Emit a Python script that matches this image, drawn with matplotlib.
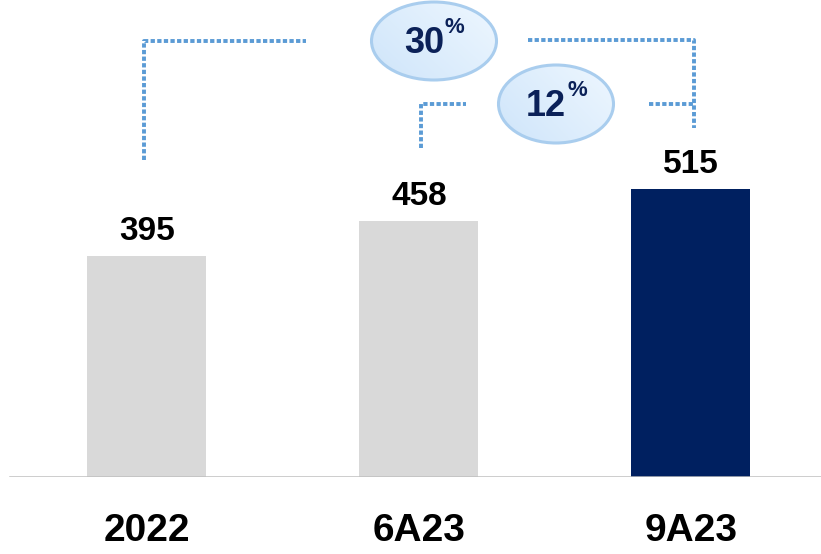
import matplotlib.pyplot as plt
import numpy as np
from matplotlib.patches import Ellipse
from matplotlib.colors import LinearSegmentedColormap

categories = ['2022', '6A23', '9A23']
values = [395, 458, 515]
growth_labels = ['30', '12']

plt.rcParams['font.family'] = ['Liberation Sans Narrow', 'Liberation Sans', 'DejaVu Sans']

grey = '#D9D9D9'
navy = '#002060'
dot_blue = '#5B9BD5'

fig = plt.figure(figsize=(8.21, 5.54), dpi=100)
ax = fig.add_axes([0, 77 / 554, 1, 477 / 554])

x = np.arange(len(categories))
colors = [grey, grey, navy]
ax.bar(x, values, width=0.4375, color=colors, zorder=2)
ax.set_xlim(-0.54, 2.478)
ax.set_ylim(0, 854)

for xi, v in zip(x, values):
    ax.text(xi, v + 16, str(v), ha='center', va='bottom', fontsize=24,
            fontweight='bold', color='black')

ax.axhline(0, xmin=10 / 821, xmax=1, color='#BFBFBF', lw=1.8, zorder=3)

ax.set_xticks(x)
ax.set_xticklabels(categories, fontsize=28, fontweight='bold')
ax.tick_params(axis='x', length=0, pad=26)
ax.set_yticks([])
for s in ax.spines.values():
    s.set_visible(False)

# pixel (from top-left) -> data, for the annotation layout
fig.canvas.draw()
inv = ax.transData.inverted()


def px(xp, yp):
    return inv.transform((xp, 554 - yp))


dot_style = dict(color=dot_blue, lw=2.8, linestyle=(0, (1.1, 0.6)),
                 dash_capstyle='butt', zorder=1)


def bracket(points):
    pts = np.array([px(*p) for p in points])
    ax.plot(pts[:, 0], pts[:, 1], **dot_style)


# outer bracket 2022 -> 9A23, inner bracket 6A23 -> 9A23
bracket([(144, 160), (144, 41), (306, 41)])
bracket([(528, 40), (694, 40), (694, 128)])
bracket([(421, 148), (421, 104), (466, 104)])
bracket([(649, 104), (694, 104)])

cmap = LinearSegmentedColormap.from_list('bub', ['#CFE5FA', '#EEF7FF'])


def bubble(cx, cy, w, h, label):
    c = px(cx, cy)
    c2 = px(cx + w, cy + h)
    wd, hd = c2[0] - c[0], c[1] - c2[1]
    gx, gy = np.meshgrid(np.linspace(0, 1, 100), np.linspace(0, 1, 100))
    im = ax.imshow(0.6 * gx + 0.4 * gy, cmap=cmap,
                   extent=(c[0] - wd / 2, c[0] + wd / 2, c[1] - hd / 2, c[1] + hd / 2),
                   origin='lower', aspect='auto', zorder=4)
    im.set_clip_path(Ellipse(c, wd, hd, transform=ax.transData))
    ax.add_patch(Ellipse(c, wd, hd, facecolor='none', edgecolor='#A9CDEE',
                         lw=2.2, zorder=5))
    t = px(cx + 10, cy + 12)
    ax.text(t[0], t[1], label, ha='right', va='baseline', fontsize=26,
            fontweight='bold', color='#0B2158', zorder=6)
    p = px(cx + 11, cy - 8)
    ax.text(p[0], p[1], '%', ha='left', va='baseline', fontsize=16,
            fontweight='bold', color='#0B2158', zorder=6)


bubble(434, 41, 125, 78, growth_labels[0])
bubble(556, 104, 115, 78, growth_labels[1])

ax.set_xlim(-0.54, 2.478)
ax.set_ylim(0, 854)

fig.savefig('out.png', dpi=100)
